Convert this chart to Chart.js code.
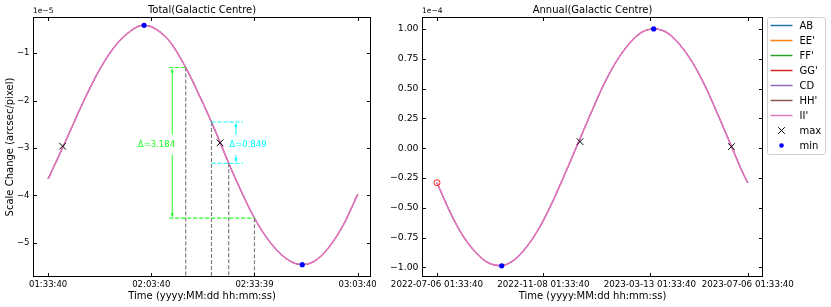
<!DOCTYPE html>
<html>
<head>
<meta charset="utf-8">
<script src="https://cdn.jsdelivr.net/npm/chart.js@4.4.9/dist/chart.umd.min.js"></script>
<style>
  html, body { margin: 0; padding: 0; background: #fff; }
  #wrap { position: relative; width: 831px; height: 307px; }
  #totalChart { position: absolute; left: 0; top: 0; }
  #annualChart { position: absolute; left: 380px; top: 0; }
</style>
</head>
<body>
<div id="wrap">
  <canvas id="totalChart" width="380" height="307"></canvas>
  <canvas id="annualChart" width="451" height="307"></canvas>
</div>
<script>
// Total panel: minutes after 01:33:40, values in 1e-5 arcsec/pixel
const totalMinutes = [0, 5, 10, 15, 20, 25, 27.5, 30, 35, 40, 45, 47.5, 50, 52.5, 55, 60, 65, 70, 74, 78, 82, 86, 90];
const totalScale   = [-3.65, -2.87, -2.06, -1.34, -0.80, -0.48, -0.41, -0.44, -0.72, -1.30, -2.05, -2.45, -2.88, -3.32, -3.73, -4.48, -5.03, -5.37, -5.46, -5.36, -5.06, -4.60, -3.98];
const totalMaxT = [4.2, 50.0];
const totalMaxV = [-2.96, -2.89];
const totalMinT = [27.9, 73.9];
const totalMinV = [-0.41, -5.46];
const totalXTicks = [0, 30, 60, 90];
const totalXLabels = ['01:33:40', '02:03:40', '02:33:39', '03:03:40'];
const totalYTicks = [-5, -4, -3, -2, -1];

// Annual panel: days after 2022-07-06 01:33:40, values in 1e-4 arcsec/pixel
const annualDays  = [0, 15, 30, 45, 60, 75, 90, 105, 120, 135, 150, 165, 180, 195, 210, 225, 240, 255, 270, 285, 300, 315, 330, 345, 360, 365];
const annualScale = [-0.29, -0.53, -0.73, -0.87, -0.96, -0.985, -0.94, -0.83, -0.67, -0.46, -0.22, 0.03, 0.28, 0.52, 0.72, 0.87, 0.97, 1.00, 0.97, 0.87, 0.72, 0.52, 0.28, 0.03, -0.22, -0.29];
const annualMaxT = [168, 345.8];
const annualMaxV = [0.055, 0.013];
const annualMinT = [76, 254.5];
const annualMinV = [-0.986, 1.00];
const annualXTicks = [0, 125, 250, 365];
const annualXLabels = ['2022-07-06 01:33:40', '2022-11-08 01:33:40', '2023-03-13 01:33:40', '2023-07-06 01:33:40'];
const annualYTicks = [-1, -0.75, -0.5, -0.25, 0, 0.25, 0.5, 0.75, 1];

const seriesNames  = ['AB', "EE'", "FF'", "GG'", 'CD', "HH'", "II'"];
const seriesColors = ['#1f77b4', '#ff7f0e', '#2ca02c', '#d62728', '#9467bd', '#8c564b', '#e377c2'];

// guide lines on the Total panel (times in minutes)
const guideT = [40, 47.5, 52.5, 60];
const guideV = guideT.map(t => totalScale[totalMinutes.indexOf(t)]);
const greenGuide = { from: 35.2, arrowAt: 36.1, labelAt: 31.5, labelY: -2.93, text: 'Δ=3.184' };
const cyanGuide  = { to: 56.7, arrowAt: 54.6, labelAt: 58.1, labelY: -2.93, text: 'Δ=0.849' };

const FONT = "'DejaVu Sans', sans-serif";
Chart.defaults.font.family = FONT;
Chart.defaults.color = '#000';

const minus = s => String(s).replace('-', '\u2212');
const pts = (xs, ys) => xs.map((x, i) => ({ x, y: ys[i] }));

function curveSets(xs, ys) {
    const last = seriesNames.length - 1;
    return seriesNames.map((name, i) => ({
        label: name,
        data: pts(xs, ys),
        showLine: true,
        borderColor: seriesColors[i],
        legendWidth: 1.5,
        borderWidth: i === last ? 1.6 : 0.8,   // the curves coincide; only II' shows
        pointRadius: 0,
        cubicInterpolationMode: 'monotone',
        order: seriesNames.length - i + 1
    }));
}

function markerSets(maxT, maxV, minT, minV) {
    return [
        { label: 'max', data: pts(maxT, maxV), pointStyle: 'crossRot', pointRadius: 4.7,
          borderColor: '#000', backgroundColor: '#000', pointBorderWidth: 1, order: 1 },
        { label: 'min', data: pts(minT, minV), pointStyle: 'circle', pointRadius: 2.6,
          borderColor: '#0000ff', backgroundColor: '#0000ff', pointBorderWidth: 0, order: 0 }
    ];
}

function xAxis(min, max, ticks, labels, size) {
    return {
        type: 'linear', min, max,
        afterBuildTicks: s => { s.ticks = ticks.map(v => ({ value: v })); },
        afterFit: s => { s.height = 30; },
        grid: { display: false, drawTicks: false },
        border: { display: false },
        ticks: { padding: 3, autoSkip: false, maxRotation: 0, font: { size },
                 callback: (v, i) => labels[i] },
        title: { display: true, text: 'Time (yyyy:MM:dd hh:mm:ss)', font: { size: 10 },
                 padding: { top: 0, bottom: 5 } }
    };
}

function yAxis(min, max, ticks, fmt, width, size, title) {
    return {
        type: 'linear', min, max,
        afterBuildTicks: s => { s.ticks = ticks.map(v => ({ value: v })); },
        afterFit: s => { s.width = width; },
        grid: { display: false, drawTicks: false },
        border: { display: false },
        ticks: { padding: 3.5, font: { size }, callback: v => fmt(v) },
        title: { display: !!title, text: title || '', font: { size: 10 }, padding: { top: 4, bottom: 0 } }
    };
}

// matplotlib-like frame, inward ticks on all sides, title and offset text
const framePlugin = {
    id: 'frame',
    afterDraw(chart, args, opts) {
        const { ctx, chartArea: a, scales: { x, y } } = chart;
        const L = Math.round(a.left) + 0.5, R = Math.round(a.right) - 0.5;
        const T = Math.round(a.top) + 0.5, B = Math.round(a.bottom) - 0.5;
        ctx.save();
        ctx.strokeStyle = '#000';
        ctx.lineWidth = 1;
        ctx.strokeRect(L, T, R - L, B - T);
        ctx.beginPath();
        x.ticks.forEach(t => {
            const px = Math.round(x.getPixelForValue(t.value)) + 0.5;
            ctx.moveTo(px, B); ctx.lineTo(px, B - 3.5);
            ctx.moveTo(px, T); ctx.lineTo(px, T + 3.5);
        });
        y.ticks.forEach(t => {
            const py = Math.round(y.getPixelForValue(t.value)) + 0.5;
            ctx.moveTo(L, py); ctx.lineTo(L + 3.5, py);
            ctx.moveTo(R, py); ctx.lineTo(R - 3.5, py);
        });
        ctx.stroke();
        ctx.fillStyle = '#000';
        ctx.font = '10px ' + FONT;
        ctx.textAlign = 'center';
        ctx.textBaseline = 'middle';
        ctx.fillText(opts.title, (a.left + a.right) / 2, 10);
        ctx.font = '7.5px ' + FONT;
        ctx.textAlign = 'left';
        ctx.textBaseline = 'bottom';
        ctx.fillText(opts.offsetText, a.left, a.top - 2);
        ctx.restore();
    }
};

function arrowV(ctx, x, yTop, yBot) {
    ctx.beginPath();
    ctx.moveTo(x, yTop + 1); ctx.lineTo(x, yBot - 1);
    ctx.stroke();
    ctx.beginPath();
    ctx.moveTo(x, yTop); ctx.lineTo(x - 1.6, yTop + 4); ctx.lineTo(x + 1.6, yTop + 4); ctx.closePath();
    ctx.moveTo(x, yBot); ctx.lineTo(x - 1.6, yBot - 4); ctx.lineTo(x + 1.6, yBot - 4); ctx.closePath();
    ctx.fill();
}

function boxedText(ctx, text, cx, cy, color) {
    ctx.font = '8.5px ' + FONT;
    const w = ctx.measureText(text).width;
    ctx.fillStyle = '#fff';
    ctx.fillRect(cx - w / 2 - 2, cy - 10, w + 4, 20);
    ctx.fillStyle = color;
    ctx.textAlign = 'center';
    ctx.textBaseline = 'middle';
    ctx.fillText(text, cx, cy);
}

// dashed drop lines and delta arrows on the Total panel
const guidePlugin = {
    id: 'guides',
    afterDatasetsDraw(chart) {
        const { ctx, chartArea: a, scales: { x, y } } = chart;
        const px = v => x.getPixelForValue(v), py = v => y.getPixelForValue(v);
        const seg = (x1, y1, x2, y2) => { ctx.beginPath(); ctx.moveTo(x1, y1); ctx.lineTo(x2, y2); ctx.stroke(); };
        ctx.save();
        ctx.lineWidth = 1.2;
        ctx.setLineDash([4, 2]);
        ctx.strokeStyle = '#808080';
        guideT.forEach((t, i) => seg(px(t), py(guideV[i]), px(t), a.bottom));
        ctx.strokeStyle = '#22ff22';
        seg(px(greenGuide.from), py(guideV[0]), px(guideT[0]), py(guideV[0]));
        seg(px(greenGuide.from), py(guideV[3]), px(guideT[3]), py(guideV[3]));
        ctx.strokeStyle = '#00ffff';
        seg(px(guideT[1]), py(guideV[1]), px(cyanGuide.to), py(guideV[1]));
        seg(px(guideT[1]), py(guideV[2]), px(cyanGuide.to), py(guideV[2]));
        ctx.setLineDash([]);
        ctx.lineWidth = 1;
        ctx.strokeStyle = ctx.fillStyle = '#22ff22';
        arrowV(ctx, px(greenGuide.arrowAt), py(guideV[0]) + 1, py(guideV[3]) - 1);
        ctx.strokeStyle = ctx.fillStyle = '#00ffff';
        arrowV(ctx, px(cyanGuide.arrowAt), py(guideV[1]) + 1, py(guideV[2]) - 1);
        boxedText(ctx, greenGuide.text, px(greenGuide.labelAt), py(greenGuide.labelY), '#22ff22');
        boxedText(ctx, cyanGuide.text, px(cyanGuide.labelAt), py(cyanGuide.labelY), '#00ffff');
        ctx.restore();
    }
};

// legend box at the right of the Annual panel
const boxLegend = {
    id: 'boxLegend',
    afterDraw(chart) {
        const { ctx, chartArea: a } = chart;
        const items = chart.data.datasets.filter(d => d.label);
        const rowH = 15;
        const left = Math.round(a.right) + 4.5, top = Math.round(a.top) + 0.5;
        const w = 58, h = items.length * rowH + 2;
        ctx.save();
        ctx.beginPath();
        ctx.roundRect(left, top, w, h, 2);
        ctx.fillStyle = 'rgba(255,255,255,0.8)';
        ctx.fill();
        ctx.strokeStyle = '#d0d0d0';
        ctx.lineWidth = 1;
        ctx.stroke();
        ctx.font = '10px ' + FONT;
        ctx.textBaseline = 'middle';
        ctx.textAlign = 'left';
        items.forEach((d, i) => {
            const cy = top + 8 + i * rowH;
            const sx = left + 3, ex = left + 25, cx = (sx + ex) / 2;
            if (d.showLine) {
                ctx.strokeStyle = d.borderColor;
                ctx.lineWidth = d.legendWidth;
                ctx.beginPath(); ctx.moveTo(sx, cy); ctx.lineTo(ex, cy); ctx.stroke();
            } else if (d.pointStyle === 'crossRot') {
                ctx.strokeStyle = '#000';
                ctx.lineWidth = 1;
                ctx.beginPath();
                ctx.moveTo(cx - 3.3, cy - 3.3); ctx.lineTo(cx + 3.3, cy + 3.3);
                ctx.moveTo(cx - 3.3, cy + 3.3); ctx.lineTo(cx + 3.3, cy - 3.3);
                ctx.stroke();
            } else {
                ctx.fillStyle = d.backgroundColor;
                ctx.beginPath(); ctx.arc(cx, cy, 2.3, 0, Math.PI * 2); ctx.fill();
            }
            ctx.fillStyle = '#000';
            ctx.fillText(d.label, left + 32, cy + 0.5);
        });
        ctx.restore();
    }
};

const common = {
    responsive: false,
    animation: false,
    events: []
};

new Chart(document.getElementById('totalChart'), {
    type: 'scatter',
    data: {
        datasets: [
            ...curveSets(totalMinutes, totalScale),
            ...markerSets(totalMaxT, totalMaxV, totalMinT, totalMinV)
        ]
    },
    options: {
        ...common,
        layout: { padding: { left: 0, right: 7, top: 17, bottom: 0 } },
        plugins: {
            legend: { display: false },
            tooltip: { enabled: false },
            frame: { title: 'Total(Galactic Centre)', offsetText: '1e\u22125' }
        },
        scales: {
            x: xAxis(-4.4, 93.9, totalXTicks, totalXLabels, 8.5),
            y: yAxis(-5.72, -0.235, totalYTicks, v => minus(v), 33, 8.5, 'Scale Change (arcsec/pixel)')
        }
    },
    plugins: [guidePlugin, framePlugin]
});

new Chart(document.getElementById('annualChart'), {
    type: 'scatter',
    data: {
        datasets: [
            ...curveSets(annualDays, annualScale),
            ...markerSets(annualMaxT, annualMaxV, annualMinT, annualMinV),
            { label: '', data: pts(annualDays.slice(0, 1), annualScale.slice(0, 1)), pointStyle: 'circle',
              pointRadius: 3, borderColor: '#ff2020', backgroundColor: 'rgba(0,0,0,0)', pointBorderWidth: 1, order: 0 }
        ]
    },
    options: {
        ...common,
        layout: { padding: { left: 0, right: 68, top: 17, bottom: 0 } },
        plugins: {
            legend: { display: false },
            tooltip: { enabled: false },
            frame: { title: 'Annual(Galactic Centre)', offsetText: '1e\u22124' }
        },
        scales: {
            x: xAxis(-17.6, 382.9, annualXTicks, annualXLabels, 8.7),
            y: yAxis(-1.08, 1.10, annualYTicks, v => minus(v.toFixed(2)), 42, 9.3)
        }
    },
    plugins: [framePlugin, boxLegend]
});
</script>
</body>
</html>
